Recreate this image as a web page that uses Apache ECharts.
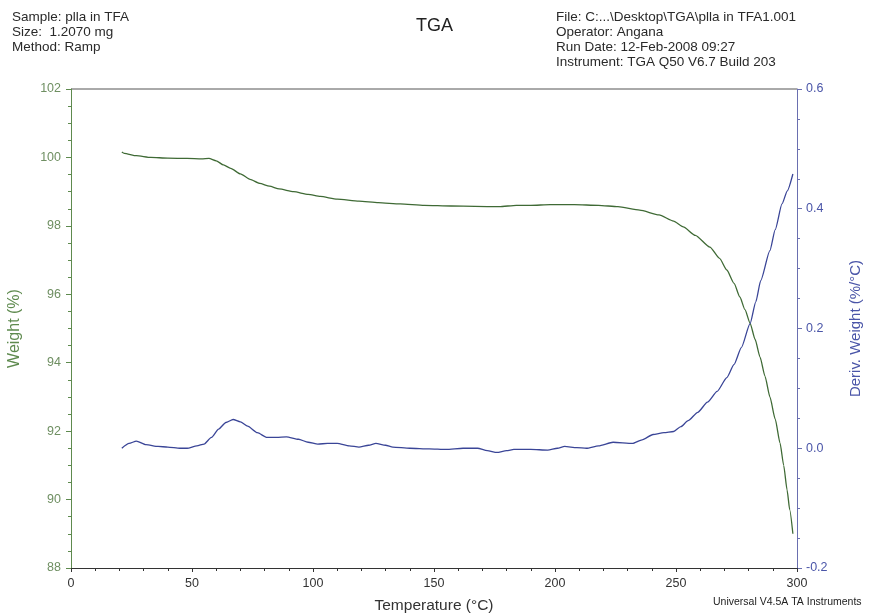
<!DOCTYPE html>
<html>
<head>
<meta charset="utf-8">
<script src="https://cdn.jsdelivr.net/npm/echarts@6/dist/echarts.min.js"></script>
<style>
  html, body { margin: 0; padding: 0; background: #ffffff; }
  #chart { width: 875px; height: 614px; }
</style>
</head>
<body>
<div id="chart"></div>
<script>
// TGA run of plla in TFA: weight loss and its derivative vs temperature
const weightTemps = [21, 22, 27, 33, 40, 48, 54, 57, 60, 63, 66, 70, 74, 78, 82, 86, 92, 98, 103, 110, 119, 127, 136, 146, 157, 167, 177, 184, 190, 198, 208, 218, 226, 235, 243, 249, 253, 258, 264, 268, 271, 274, 276.4, 278.5, 280.6, 282.7, 284.7, 286.8, 288.8, 291, 293, 294.5, 295.9, 297, 298.3];
const weightValues = [100.16, 100.12, 100.05, 100.0, 99.98, 99.97, 99.96, 99.97, 99.9, 99.78, 99.68, 99.52, 99.36, 99.24, 99.16, 99.08, 99.0, 98.92, 98.86, 98.78, 98.72, 98.68, 98.64, 98.6, 98.58, 98.57, 98.56, 98.6, 98.6, 98.62, 98.62, 98.6, 98.56, 98.46, 98.32, 98.14, 97.97, 97.72, 97.38, 97.05, 96.71, 96.32, 95.92, 95.55, 95.16, 94.68, 94.17, 93.6, 93.0, 92.35, 91.65, 91.0, 90.28, 89.7, 89.0];

const derivTemps = [21, 24, 27, 31, 36, 40, 45, 48, 52, 55, 58, 61, 64, 67, 70, 73, 77, 81, 85, 89, 94, 98, 102, 106, 110, 115, 119, 123, 126, 130, 133, 140, 148, 155, 162, 168, 172, 176, 180, 183, 190, 197, 201, 204, 209, 213, 218, 224, 232, 236, 240.5, 245, 249, 252, 255, 259, 263, 267, 271, 274, 277, 280.6, 283, 285, 288.8, 291, 293.8, 296, 298.3];
const derivValues = [0.0, 0.008, 0.012, 0.006, 0.003, 0.002, 0.0, 0.0, 0.004, 0.007, 0.018, 0.032, 0.043, 0.048, 0.044, 0.037, 0.026, 0.018, 0.018, 0.019, 0.015, 0.01, 0.007, 0.008, 0.008, 0.004, 0.002, 0.005, 0.008, 0.005, 0.002, 0.0, -0.001, -0.002, 0.0, 0.0, -0.004, -0.007, -0.004, -0.002, -0.002, -0.003, 0.0, 0.003, 0.001, 0.0, 0.004, 0.01, 0.008, 0.014, 0.023, 0.026, 0.028, 0.036, 0.046, 0.06, 0.077, 0.095, 0.118, 0.14, 0.168, 0.208, 0.245, 0.28, 0.33, 0.365, 0.408, 0.43, 0.458];

const headerLeft = ['Sample: plla in TFA', 'Size:  1.2070 mg', 'Method: Ramp'];
const headerRight = ['File: C:...\\Desktop\\TGA\\plla in TFA1.001', 'Operator: Angana', 'Run Date: 12-Feb-2008 09:27', 'Instrument: TGA Q50 V6.7 Build 203'];

const FONT = '"Liberation Sans", Arial, sans-serif';
const GREEN = '#3f6a35';
const GREEN_AXIS = '#5e8a4e';
const GREEN_LABEL = '#6f8f62';
const BLUE = '#3a4597';
const BLUE_AXIS = '#6a6fb0';
const BLUE_LABEL = '#4a55a8';

const zip = (xs, ys) => xs.map((x, i) => [x, ys[i]]);

const chart = echarts.init(document.getElementById('chart'));

const graphic = [];
headerLeft.forEach((t, i) => graphic.push({
  type: 'text', left: 12, top: 10 + i * 15,
  style: { text: t, font: '13.5px ' + FONT, fill: '#2a2a2a' }
}));
headerRight.forEach((t, i) => graphic.push({
  type: 'text', left: 556, top: 10 + i * 15,
  style: { text: t, font: '13.5px ' + FONT, fill: '#2a2a2a' }
}));
graphic.push({
  type: 'text', left: 416, top: 17,
  style: { text: 'TGA', font: '18px ' + FONT, fill: '#222' }
});
graphic.push({
  type: 'text', left: 713, top: 597,
  style: { text: 'Universal V4.5A TA Instruments', font: '10.5px ' + FONT, fill: '#222' }
});
// frame top edge
graphic.push({
  type: 'line', shape: { x1: 71, y1: 89, x2: 797, y2: 89 },
  style: { stroke: '#555', lineWidth: 1 }
});

chart.setOption({
  animation: false,
  backgroundColor: '#ffffff',
  grid: { left: 71, right: 78, top: 89, bottom: 46, containLabel: false, outerBoundsMode: 'none' },
  graphic: graphic,
  xAxis: {
    type: 'value', min: 0, max: 300, interval: 50,
    name: 'Temperature (°C)', nameLocation: 'middle', nameGap: 30,
    nameTextStyle: { fontFamily: FONT, fontSize: 15.5, color: '#333' },
    axisLine: { show: true, onZero: false, lineStyle: { color: '#333', width: 1 } },
    axisTick: { show: true, length: 4, inside: false, lineStyle: { color: '#333' } },
    minorTick: { show: true, splitNumber: 5, length: 3, lineStyle: { color: '#333' } },
    axisLabel: { fontFamily: FONT, fontSize: 12.5, color: '#333', margin: 9 },
    splitLine: { show: false }
  },
  yAxis: [
    {
      type: 'value', min: 88, max: 102, interval: 2, position: 'left',
      name: 'Weight (%)', nameLocation: 'middle', nameGap: 48, nameRotate: 90,
      nameTextStyle: { fontFamily: FONT, fontSize: 16, color: GREEN_AXIS },
      axisLine: { show: true, onZero: false, lineStyle: { color: GREEN_AXIS, width: 1 } },
      axisTick: { show: true, length: 5, lineStyle: { color: GREEN_AXIS } },
      minorTick: { show: true, splitNumber: 4, length: 3, lineStyle: { color: GREEN_AXIS } },
      axisLabel: { fontFamily: FONT, fontSize: 12.5, color: GREEN_LABEL, margin: 10 },
      splitLine: { show: false }
    },
    {
      type: 'value', min: -0.2, max: 0.6, interval: 0.2, position: 'right',
      name: 'Deriv. Weight (%/°C)', nameLocation: 'middle', nameGap: 51, nameRotate: 90,
      nameTextStyle: { fontFamily: FONT, fontSize: 15, color: BLUE_LABEL },
      axisLine: { show: true, onZero: false, lineStyle: { color: BLUE_AXIS, width: 1 } },
      axisTick: { show: true, length: 5, lineStyle: { color: BLUE_AXIS } },
      minorTick: { show: true, splitNumber: 4, length: 3, lineStyle: { color: BLUE_AXIS } },
      axisLabel: { fontFamily: FONT, fontSize: 12.5, color: BLUE_LABEL, margin: 9,
        formatter: v => v.toFixed(1) },
      splitLine: { show: false }
    }
  ],
  series: [
    {
      name: 'Weight', type: 'line', yAxisIndex: 0,
      data: zip(weightTemps, weightValues),
      showSymbol: false, smooth: 0.2, smoothMonotone: 'x',
      lineStyle: { color: GREEN, width: 1.3 }
    },
    {
      name: 'Deriv. Weight', type: 'line', yAxisIndex: 1,
      data: zip(derivTemps, derivValues),
      showSymbol: false, smooth: 0.2, smoothMonotone: 'x',
      lineStyle: { color: BLUE, width: 1.3 }
    }
  ]
});
</script>
</body>
</html>
